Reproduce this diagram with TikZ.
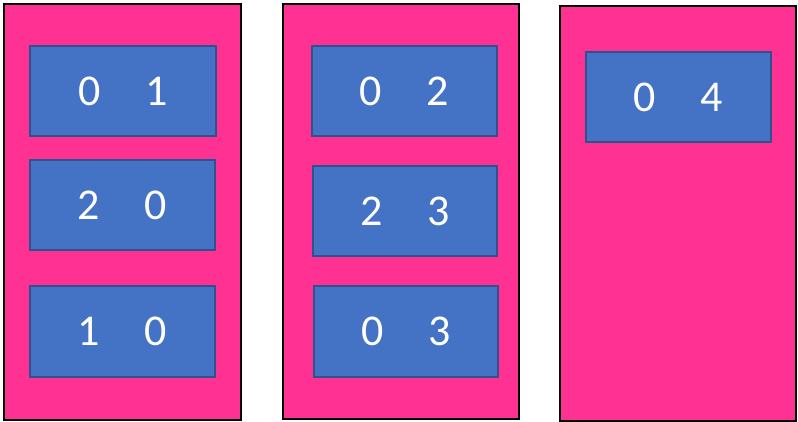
\documentclass[tikz,border=0pt]{standalone}
\usepackage{fontspec}
\setmainfont{Carlito}
\definecolor{pinkfill}{HTML}{FF3293}
\definecolor{bluefill}{HTML}{4472C4}
\definecolor{blueline}{HTML}{2F528F}
\tikzset{
  col/.style={draw=black, line width=2pt, fill=pinkfill},
  pairbox/.style={draw=blueline, line width=1.5pt, fill=bluefill, text=white,
    font=\fontsize{44}{44}\selectfont, inner sep=0pt, anchor=center}
}
\newcommand{\pr}[2]{#1\hspace{45pt}#2}
\begin{document}
\begin{tikzpicture}[x=1pt,y=-1pt]
\useasboundingbox (0,0) rectangle (798,422);
\fill[white] (0,0) rectangle (798,422);
% columns
\draw[col] (4,4) rectangle (241,420);
\draw[col] (283,4) rectangle (519,419);
\draw[col] (560,6) rectangle (796,421);
% boxes
\node[pairbox, minimum width=186pt, minimum height=90pt] (a1) at (123,91) {\pr{0}{1}};
\node[pairbox, minimum width=185pt, minimum height=90pt] (a2) at (122.5,205) {\pr{2}{0}};
\node[pairbox, minimum width=185pt, minimum height=91pt] (a3) at (122.5,331.5) {\pr{1}{0}};
\node[pairbox, minimum width=185pt, minimum height=90pt] (b1) at (404.5,91) {\pr{0}{2}};
\node[pairbox, minimum width=184pt, minimum height=90pt] (b2) at (405,211) {\pr{2}{3}};
\node[pairbox, minimum width=184pt, minimum height=91pt] (b3) at (406,331.5) {\pr{0}{3}};
\node[pairbox, minimum width=185pt, minimum height=90pt] (c1) at (678.5,97) {\pr{0}{4}};
\end{tikzpicture}
\end{document}
